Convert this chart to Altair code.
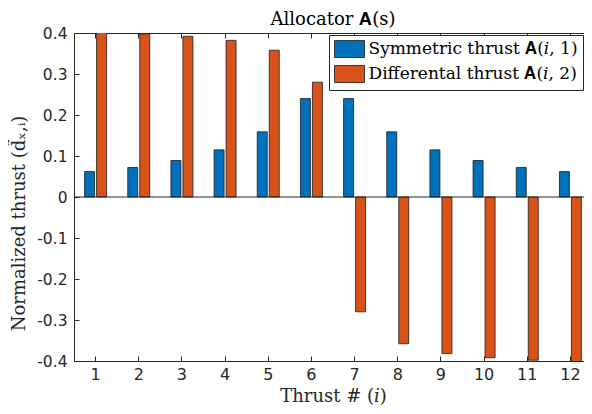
import altair as alt
import pandas as pd

thrusts = list(range(1, 13))
symmetric = [0.062, 0.072, 0.089, 0.115, 0.159, 0.240, 0.240, 0.159, 0.115, 0.089, 0.072, 0.062]
differential = [0.42, 0.398, 0.392, 0.382, 0.358, 0.280, -0.280, -0.358, -0.382, -0.392, -0.398, -0.42]
series_names = ["Symmetric thrust 𝐀(𝑖, 1)", "Differental thrust 𝐀(𝑖, 2)"]
colors = ["#0072BD", "#D95319"]
y_ticks = [-0.4, -0.3, -0.2, -0.1, 0, 0.1, 0.2, 0.3, 0.4]
zero_line = [0]

rows = []
for t, s, d in zip(thrusts, symmetric, differential):
    rows.append({"thrust": t, "series": series_names[0], "value": s})
    rows.append({"thrust": t, "series": series_names[1], "value": d})
df = pd.DataFrame(rows)

AX = "#262626"
SERIF = "DejaVu Serif"
SANS = "DejaVu Sans"

# band scale spans the full 12 thrust slots; the view is narrower, so the
# last slot is cut at the page edge as in the reference
xscale = alt.Scale(paddingInner=0, paddingOuter=0, range=[0, 518])
yscale = alt.Scale(domain=[-0.4, 0.4], nice=False, zero=False)

label_expr = "replace(format(datum.value, '.1~f'), '\u2212', '-')"

bars = alt.Chart(df).mark_bar(stroke="#1a1a1a", strokeWidth=0.8, clip=True, opacity=1).encode(
    x=alt.X("thrust:O", scale=xscale, sort=thrusts,
            axis=alt.Axis(orient="bottom", title="Thrust # (𝑖)", labelAngle=0, ticks=False, tickSize=0,
                          domain=True, domainColor=AX, domainWidth=1, labelPadding=5, labelFont=SANS,
                          labelFontSize=16, labelColor=AX, titleFont=SERIF, titleFontSize=18,
                          titleFontWeight="normal", titleColor=AX, titlePadding=5)),
    xOffset=alt.XOffset("series:N", scale=alt.Scale(domain=series_names, paddingInner=0.167, paddingOuter=0.883)),
    y=alt.Y("value:Q", scale=yscale,
            axis=alt.Axis(orient="left", values=y_ticks, labelExpr=label_expr, title="Normalized thrust (d̃ₓ,ᵢ)",
                          ticks=False, tickSize=0, domain=True, domainColor=AX, domainWidth=1, grid=False,
                          labelPadding=7, labelFont=SANS, labelFontSize=15.5, labelColor=AX, titleFont=SERIF,
                          titleFontSize=18, titleFontWeight="normal", titleColor=AX, titlePadding=8,
                          titleY=190)),
    color=alt.Color("series:N", scale=alt.Scale(domain=series_names, range=colors),
                    legend=alt.Legend(orient="none", legendX=255, legendY=2, title=None,
                                      symbolType="M-1,-1h3.53v2h-3.53z", symbolSize=289,
                                      symbolStrokeColor="#1a1a1a", symbolStrokeWidth=0.8,
                                      symbolOpacity=1, labelOffset=16.5, labelFont=SERIF,
                                      labelFontSize=17, labelColor="black", rowPadding=3,
                                      padding=5, fillColor="white", strokeColor=AX,
                                      labelLimit=400)),
)

baseline = alt.Chart(pd.DataFrame({"y": zero_line})).mark_rule(color=AX, strokeWidth=1).encode(
    y=alt.Y("y:Q", scale=yscale, axis=None)
)

ticks_in = alt.Chart(df).mark_point(opacity=0).encode(
    x=alt.X("thrust:O", scale=xscale, sort=thrusts,
            axis=alt.Axis(orient="bottom", offset=-5, tickSize=5, ticks=True, labels=False, domain=False,
                          title=None, tickColor=AX, tickWidth=1)),
    y=alt.Y("value:Q", scale=yscale,
            axis=alt.Axis(orient="left", offset=-5, tickSize=5, ticks=True, labels=False, domain=False,
                          grid=False, values=y_ticks, title=None, tickColor=AX, tickWidth=1)),
)

ticks_top = alt.Chart(df).mark_point(opacity=0).encode(
    x=alt.X("thrust:O", scale=xscale, sort=thrusts,
            axis=alt.Axis(orient="top", offset=-5, tickSize=5, ticks=True, labels=False, domain=False,
                          title=None, tickColor=AX, tickWidth=1)),
    y=alt.Y("value:Q", scale=yscale, axis=None),
)

top_border = alt.Chart(df).mark_point(opacity=0).encode(
    x=alt.X("thrust:O", scale=xscale, sort=thrusts,
            axis=alt.Axis(orient="top", ticks=False, labels=False, domain=True, domainColor=AX,
                          domainWidth=1, title=None)),
    y=alt.Y("value:Q", scale=yscale, axis=None),
)

chart = alt.layer(bars, baseline, ticks_in, ticks_top, top_border).resolve_axis(
    x="independent", y="independent"
).properties(
    width=510, height=328,
    title=alt.TitleParams("Allocator 𝐀(s)", font=SERIF, fontSize=18, fontWeight="normal",
                          color="black", offset=4, dy=11, dx=4, anchor="middle"),
    autosize=alt.AutoSizeParams(type="none"),
    padding={"left": 66, "top": 25, "right": 0, "bottom": 45},
).configure_view(stroke=None).configure(background="white")

chart.save("out.html", embed_options={"renderer": "svg", "actions": False})
